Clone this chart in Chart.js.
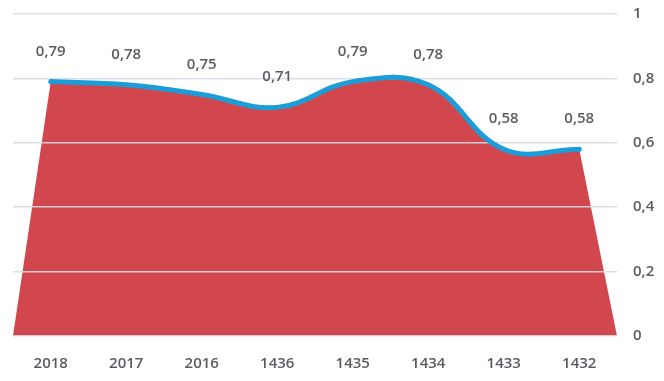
<!DOCTYPE html>
<html>
<head>
<meta charset="utf-8">
<script src="https://cdn.jsdelivr.net/npm/chart.js@4.4.1/dist/chart.umd.min.js"></script>
<style>
  html, body { margin: 0; padding: 0; background: #fff; }
  #wrap { width: 664px; height: 381px; }
</style>
</head>
<body>
<div id="wrap"><canvas id="chart" width="664" height="381"></canvas></div>
<script>
const categories = ['2018', '2017', '2016', '1436', '1435', '1434', '1433', '1432'];
const ratios = [0.79, 0.78, 0.75, 0.71, 0.79, 0.78, 0.58, 0.58];
const yTicks = [0, 0.2, 0.4, 0.6, 0.8, 1];

const RED = '#d1474d';
const BLUE = '#1b9dd8';
const TEXT = '#595d62';
const FONT = '"Open Sans", sans-serif';

// decimal comma, like the original
const fmt = v => (v === 0 || v === 1) ? String(v) : String(v).replace('.', ',');

const linePoints = ratios.map((v, i) => ({ x: i, y: v }));
const last = ratios.length - 1;

// the red area runs out to the edges of the plot, down to zero
const leftEdge = [{ x: -0.5, y: 0 }, { x: 0, y: ratios[0] }, { x: 1, y: 0 }];
const rightEdge = [{ x: last - 1, y: 0 }, { x: last, y: ratios[last] }, { x: last + 0.5, y: 0 }];

const valueLabels = {
  id: 'valueLabels',
  afterDatasetsDraw(chart) {
    const { ctx } = chart;
    const meta = chart.getDatasetMeta(0);
    ctx.save();
    ctx.font = '600 15px ' + FONT;
    ctx.fillStyle = TEXT;
    ctx.textAlign = 'center';
    ctx.textBaseline = 'alphabetic';
    meta.data.forEach((pt, i) => {
      ctx.fillText(fmt(ratios[i]), pt.x, pt.y - 26);
    });
    ctx.restore();
  }
};

new Chart(document.getElementById('chart'), {
  type: 'line',
  data: {
    datasets: [
      {
        data: linePoints,
        borderColor: BLUE,
        borderWidth: 5,
        borderCapStyle: 'round',
        backgroundColor: RED,
        fill: 'origin',
        tension: 0.4,
        pointRadius: 0,
        clip: false,
      },
      {
        data: leftEdge,
        borderWidth: 0,
        backgroundColor: RED,
        fill: 'origin',
        tension: 0,
        pointRadius: 0,
      },
      {
        data: rightEdge,
        borderWidth: 0,
        backgroundColor: RED,
        fill: 'origin',
        tension: 0,
        pointRadius: 0,
      },
    ],
  },
  options: {
    responsive: false,
    animation: false,
    layout: { padding: { left: 13, right: 0, top: 14, bottom: 0 } },
    plugins: {
      legend: { display: false },
      tooltip: { enabled: false },
      filler: { drawTime: 'beforeDraw' },
    },
    scales: {
      x: {
        type: 'linear',
        min: -0.5,
        max: last + 0.5,
        afterBuildTicks: scale => {
          scale.ticks = categories.map((c, i) => ({ value: i }));
        },
        afterFit: scale => { scale.height = 45; },
        grid: { display: false, drawTicks: false },
        border: { display: false },
        ticks: {
          autoSkip: false,
          maxRotation: 0,
          padding: 19,
          color: TEXT,
          font: { family: FONT, size: 15, weight: '600' },
          callback: v => categories[v],
        },
      },
      y: {
        position: 'right',
        min: 0,
        max: 1,
        afterBuildTicks: scale => {
          scale.ticks = yTicks.map(v => ({ value: v }));
        },
        afterFit: scale => {
          scale.width = 47;
          scale.paddingTop = 0;
          scale.paddingBottom = 0;
        },
        grid: {
          color: 'rgba(214,218,228,0.9)',
          lineWidth: 1.5,
          drawTicks: false,
        },
        border: { display: false },
        ticks: {
          padding: 16,
          color: TEXT,
          font: { family: FONT, size: 15, weight: '600' },
          callback: v => fmt(v),
        },
      },
    },
  },
  plugins: [valueLabels],
});
</script>
</body>
</html>
